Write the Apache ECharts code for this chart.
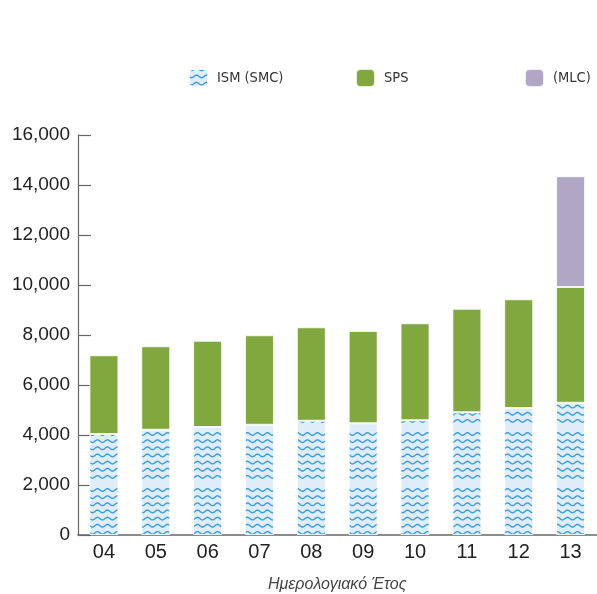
<!DOCTYPE html>
<html>
<head>
<meta charset="utf-8">
<script src="https://cdn.jsdelivr.net/npm/echarts@6/dist/echarts.min.js"></script>
<style>html,body{margin:0;padding:0;background:#fff}#c{width:597px;height:594px}</style>
</head>
<body>
<div id="c"></div>
<script>
const years = ['04','05','06','07','08','09','10','11','12','13'];
const ismValues = [4040, 4210, 4320, 4410, 4570, 4470, 4590, 4910, 5080, 5290];
const spsValues = [3150, 3340, 3450, 3580, 3740, 3690, 3880, 4140, 4350, 4630];
const mlcValues = [null, null, null, null, null, null, null, null, null, 4430];
const seriesNames = ['ISM (SMC)', 'SPS', '(MLC)'];
const yTicks = {min: 0, max: 16000, interval: 2000};
const xAxisTitle = 'Ημερολογιακό Έτος';

function makeWave() {
  const c = document.createElement('canvas');
  c.width = 10; c.height = 56;
  const ctx = c.getContext('2d');
  ctx.fillStyle = '#dfedf9';
  ctx.fillRect(0, 0, 10, 56);
  ctx.strokeStyle = '#3d9ce0';
  ctx.lineWidth = 1.4;
  for (let i = 0; i < 7; i++) {
    let y0 = (42 + 7.15 * i) % 56;
    for (const off of [0, 56, -56]) {
      ctx.beginPath();
      for (let x = -1; x <= 11; x += 0.5) {
        const y = y0 + off + 1.3 * Math.sin(x / 10 * 2 * Math.PI);
        if (x === -1) ctx.moveTo(x, y); else ctx.lineTo(x, y);
      }
      ctx.stroke();
    }
  }
  return c;
}
const wave = {image: makeWave(), repeat: 'repeat'};

const chart = echarts.init(document.getElementById('c'), null, {renderer: 'canvas'});
const legendText = {fontFamily: '"DejaVu Sans Condensed", "Liberation Sans Narrow", Arial, sans-serif', fontSize: 14.5, color: '#333', padding: [0,0,0,4]};
const barBorder = {borderColor: 'rgba(255,255,255,0.8)', borderWidth: 1};
chart.setOption({
  animation: false,
  legend: [
    {data: [seriesNames[0]], left: 183, top: 63, itemWidth: 19, itemHeight: 18, textStyle: legendText, selectedMode: false},
    {data: [seriesNames[1]], left: 350, top: 63, itemWidth: 19, itemHeight: 18, textStyle: legendText, selectedMode: false},
    {data: [seriesNames[2]], left: 519, top: 63, itemWidth: 19, itemHeight: 18, textStyle: legendText, selectedMode: false}
  ],
  grid: {left: 78, top: 135, width: 518.5, height: 400, containLabel: false, outerBoundsMode: 'none'},
  xAxis: {
    type: 'category', data: years,
    name: xAxisTitle, nameLocation: 'middle', nameGap: 42,
    nameTextStyle: {fontFamily: 'Liberation Sans, Arial, sans-serif', fontStyle: 'italic', fontSize: 16, color: '#444'},
    axisLine: {lineStyle: {color: '#666', width: 1.5}},
    axisTick: {show: false},
    axisLabel: {fontFamily: 'Liberation Sans, Arial, sans-serif', fontSize: 20, color: '#222', margin: 7}
  },
  yAxis: {
    type: 'value', min: yTicks.min, max: yTicks.max, interval: yTicks.interval,
    axisLine: {show: true, lineStyle: {color: '#666', width: 1.2}},
    axisTick: {show: true, inside: true, length: 13, lineStyle: {color: '#666', width: 1.2}},
    splitLine: {show: false},
    axisLabel: {fontFamily: 'Liberation Sans, Arial, sans-serif', fontSize: 19, color: '#222', margin: 8,
      formatter: v => v.toLocaleString('en-US')}
  },
  series: [
    {name: seriesNames[0], type: 'bar', stack: 't', data: ismValues, barWidth: 29,
     itemStyle: Object.assign({color: wave}, barBorder)},
    {name: seriesNames[1], type: 'bar', stack: 't', data: spsValues, barWidth: 29,
     itemStyle: Object.assign({color: '#80a83f'}, barBorder)},
    {name: seriesNames[2], type: 'bar', stack: 't', data: mlcValues, barWidth: 29,
     itemStyle: Object.assign({color: '#b0a7c7'}, barBorder)}
  ]
});
</script>
</body>
</html>
